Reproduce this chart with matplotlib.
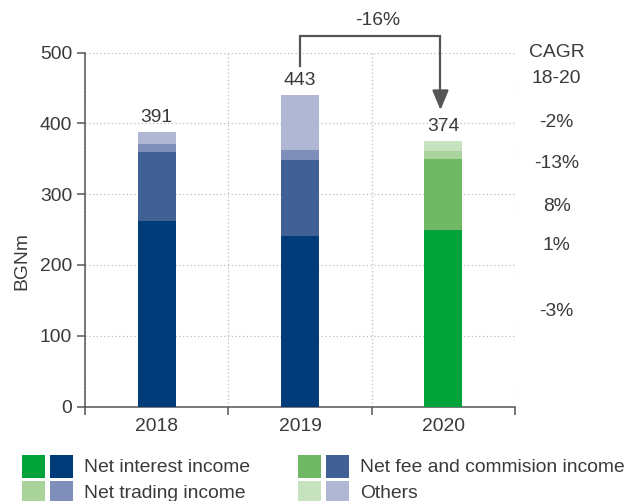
import matplotlib
matplotlib.use("Agg")
import matplotlib.pyplot as plt
from matplotlib.patches import Rectangle
import numpy as np

plt.rcParams['font.family'] = ['Liberation Sans', 'DejaVu Sans']

years = ["2018", "2019", "2020"]
series_names = ["Net interest income", "Net fee and commision income",
                "Net trading income", "Others"]
nii = [262, 241, 249]
fee = [98, 107, 101]
trading = [11, 14, 11]
others = [17, 78, 14]
totals = [391, 443, 374]
cagr_labels = ["-2%", "-13%", "8%", "1%", "-3%"]
cagr_y = [402, 343, 283, 227, 134]
change_label = "-16%"

blues = ["#003b7a", "#416094", "#7f8fba", "#b0b7d5"]
greens = ["#00a339", "#6fb864", "#a8d39b", "#c6e2bf"]
TXT = "#3a3a3a"
FS = 13.9

W, H = 626, 501
fig = plt.figure(figsize=(W / 100, H / 100), dpi=100)
ax = fig.add_axes([85 / W, 1 - 406.5 / H, (515 - 85) / W, (406.5 - 52.7) / H])

x = np.arange(len(years))
stack = [nii, fee, trading, others]
bottom = np.zeros(len(years))
for k, vals in enumerate(stack):
    cols = [blues[k], blues[k], greens[k]]
    ax.bar(x, vals, width=0.265, bottom=bottom, color=cols, zorder=3)
    bottom += np.array(vals)

for i in range(len(years)):
    ax.text(x[i], bottom[i] + 9, str(totals[i]), ha='center', va='bottom',
            fontsize=FS, color=TXT)

ax.set_xlim(-0.5, 2.5)
ax.set_ylim(0, 500)
ax.set_yticks([0, 100, 200, 300, 400, 500])
ax.set_xticks([-0.5, 0.5, 1.5, 2.5])
ax.set_xticklabels([])
ax.set_xticks(x, minor=True)
ax.set_xticklabels(years, minor=True)
ax.tick_params(axis='x', which='major', length=5.5, width=1.1, color='#555555', direction='out')
ax.tick_params(axis='x', which='minor', length=0, pad=8, labelsize=FS, labelcolor=TXT)
ax.tick_params(axis='y', length=5.8, width=1.1, color='#555555', pad=3.5,
               labelsize=FS, labelcolor=TXT)
for s in ['top', 'right']:
    ax.spines[s].set_visible(False)
for s in ['left', 'bottom']:
    ax.spines[s].set_color('#555555')
    ax.spines[s].set_linewidth(1.1)
ax.grid(True, which='major', linestyle=(0, (1, 2)), color='#bbbbbb', linewidth=0.9, zorder=0)
ax.set_axisbelow(True)

# CAGR column
ax.text(2.79, 500, "CAGR", ha='center', va='center', fontsize=FS, color=TXT, clip_on=False)
ax.text(2.79, 464, "18-20", ha='center', va='center', fontsize=FS, color=TXT, clip_on=False)
for lab, yy in zip(cagr_labels, cagr_y):
    ax.text(2.79, yy, lab, ha='center', va='center', fontsize=FS, color=TXT, clip_on=False)

# change arrow
ax.plot([1, 1, 1.98, 1.98], [481, 524, 524, 440], color='#555555', lw=1.6,
        clip_on=False, solid_joinstyle='miter')
ax.annotate("", xy=(1.98, 419), xytext=(1.98, 445),
            arrowprops=dict(arrowstyle='-|>,head_length=1.2,head_width=0.5',
                            color='#555555', lw=1.6, shrinkA=0, shrinkB=0),
            annotation_clip=False)
ax.text(1.54, 546, change_label, ha='center', va='center', fontsize=FS, color=TXT, clip_on=False)

fig.text(22 / W, 1 - 261 / H, "BGNm", rotation=90, ha='center', va='center',
         fontsize=FS, color=TXT)

# legend
def px(xp, yp):
    return xp / W, 1 - yp / H

entries = [(0, 22, 455), (1, 298, 455), (2, 22, 481), (3, 298, 481)]
for k, xl, yt in entries:
    for j, col in enumerate([greens[k], blues[k]]):
        x0, y0 = px(xl + j * 28, yt + 23)
        fig.add_artist(Rectangle((x0, y0), 23 / W, 23 / H, transform=fig.transFigure,
                                 facecolor=col, edgecolor='none'))
    tx, ty = px(xl + 62, yt + 12)
    fig.text(tx, ty, series_names[k], ha='left', va='center', fontsize=FS, color=TXT)

fig.savefig("out.png", dpi=100)
